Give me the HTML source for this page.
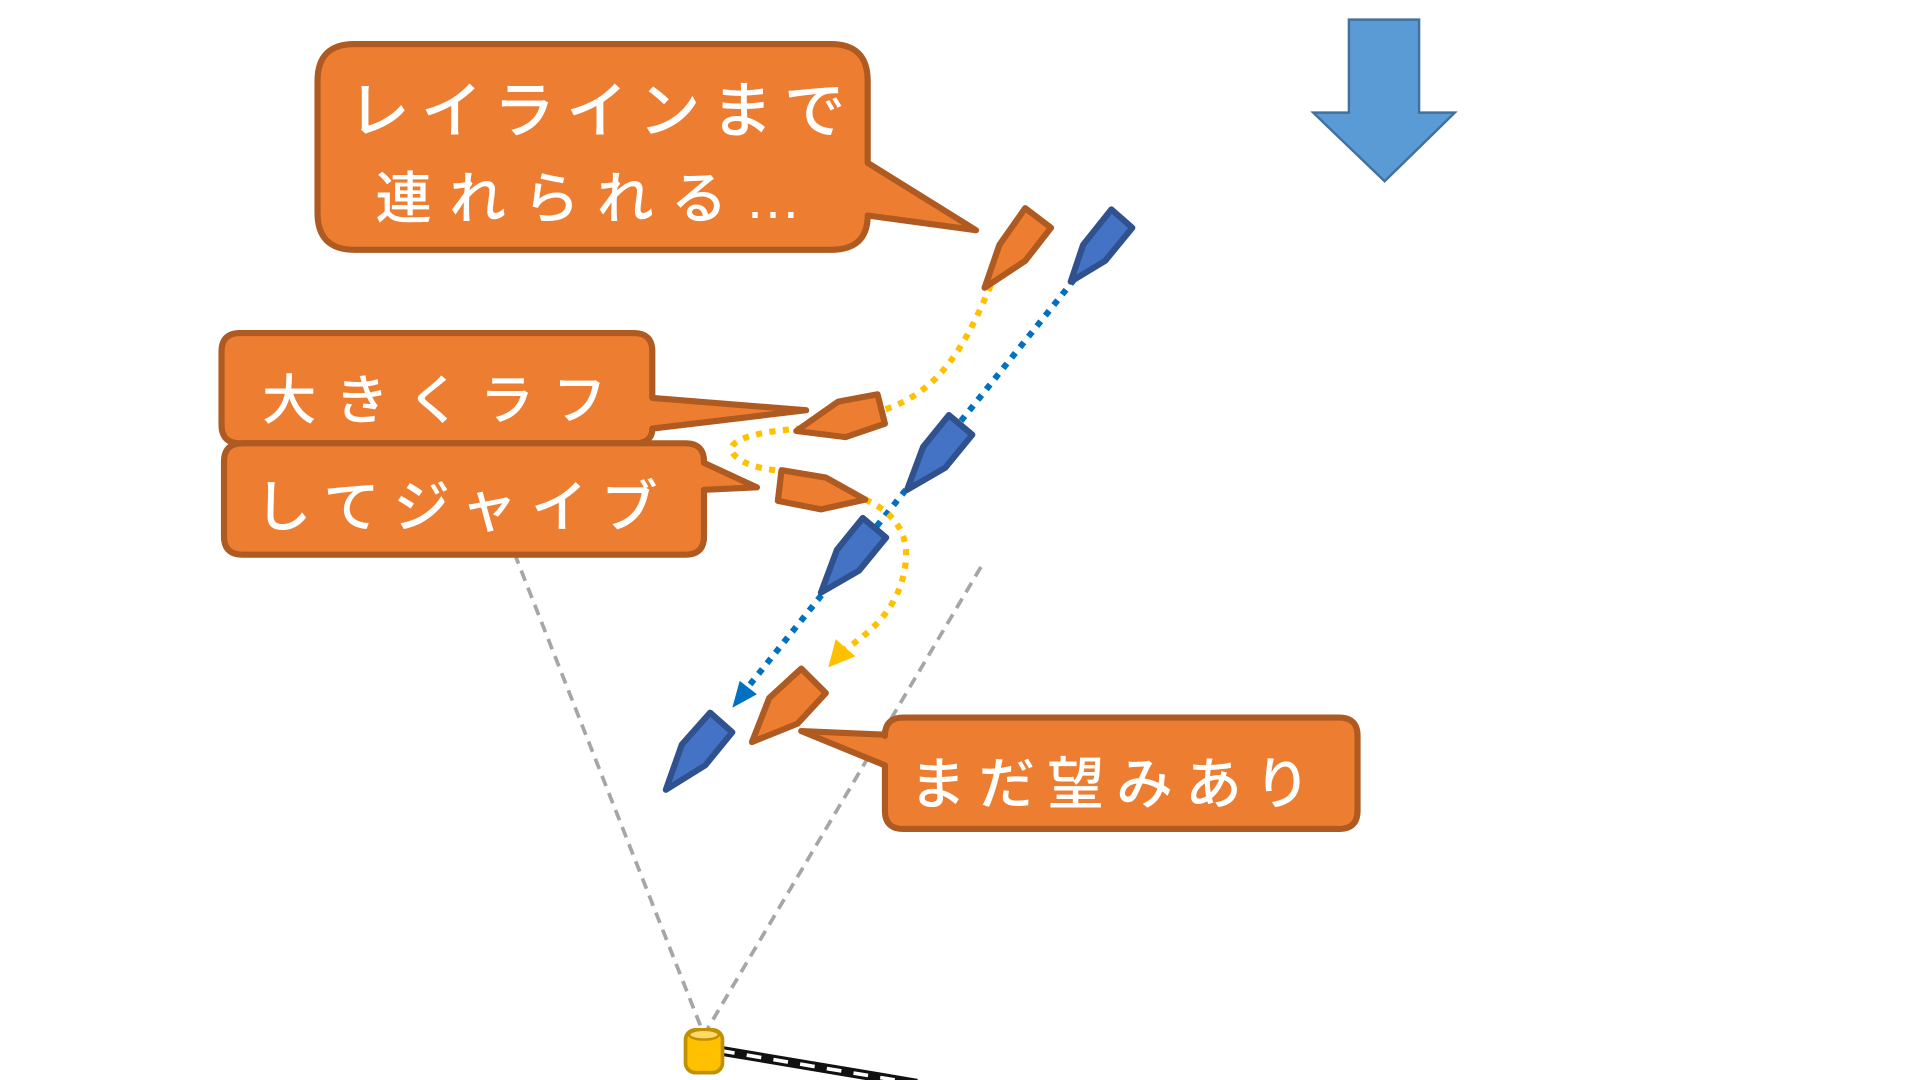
<!DOCTYPE html>
<html><head><meta charset="utf-8"><style>
html,body{margin:0;padding:0;background:#fff;overflow:hidden}
svg{display:block}
text{font-family:"Liberation Sans","Noto Sans CJK JP",sans-serif;fill:#fff;font-weight:500}
</style></head><body>
<svg width="1920" height="1080" viewBox="0 0 1560 882" preserveAspectRatio="none" xmlns="http://www.w3.org/2000/svg">
<g transform="translate(-5,0)">
<polygon points="1101,16 1158,16 1158,92 1187,92 1130,148 1072,92 1101,92" fill="#5b9bd5" stroke="#41719c" stroke-width="2"/>
<line x1="423" y1="452" x2="575" y2="840" stroke="#a6a6a6" stroke-width="3" stroke-dasharray="9,6"/>
<line x1="802" y1="463" x2="580" y2="840" stroke="#a6a6a6" stroke-width="3" stroke-dasharray="9,6"/>
<line x1="878" y1="228" x2="612" y2="562" stroke="#0070c0" stroke-width="5" stroke-dasharray="5,6"/>
<polygon points="600,578 606,556 620,567" fill="#0070c0"/>
<path d="M810,233 C790,280 770,320 722,335 M657,350 C620,352 590,360 602,372 C612,382 630,383 640,385 M708,408 C735,420 745,440 740,465 C735,495 715,515 692,530" fill="none" stroke="#ffc000" stroke-width="5" stroke-dasharray="5,6"/>
<polygon points="678,545 684,522 700,536" fill="#ffc000"/>
<g fill="#ed7d31" stroke="#ae5a21" stroke-width="5" stroke-linejoin="round">
<path d="M293,36 H680 Q710,36 710,66 V133 L798,188 L710,176 Q710,204 680,204 H293 Q263,204 263,174 V66 Q263,36 293,36 Z"/>
<path d="M200,272 H520 Q535,272 535,287 V325 L660,335 L535,350 Q535,362 520,362 H200 Q185,362 185,347 V287 Q185,272 200,272 Z"/>
<path d="M202,362 H562 Q577,362 577,377 V378 L620,398 L577,400 V438 Q577,453 562,453 H202 Q187,453 187,438 V377 Q187,362 202,362 Z"/>
<path d="M739,586 H1093 Q1108,586 1108,601 V662 Q1108,677 1093,677 H739 Q724,677 724,662 V625 L656,597 L724,600 V601 Q724,586 739,586 Z"/>
</g>
<text x="288" y="108" font-size="50" letter-spacing="9">レイラインまで</text>
<text x="310" y="178" font-size="46" letter-spacing="14">連れられる…</text>
<text x="218" y="342" font-size="44" letter-spacing="15">大きくラフ</text>
<text x="212" y="430" font-size="46" letter-spacing="11">してジャイブ</text>
<text x="744" y="656" font-size="46" letter-spacing="10">まだ望みあり</text>
<g fill="#4472c4" stroke="#2f528f" stroke-width="5" stroke-linejoin="round">
<polygon points="908,171 925,186 903,213 875,230 885,200"/>
<polygon points="776,339 795,355 773,382 742,400 755,365"/>
<polygon points="706,423 725,439 703,466 672,484 685,449"/>
<polygon points="582,582 600,598 578,625 546,645 559,608"/>
</g>
<g fill="#ed7d31" stroke="#ae5a21" stroke-width="5" stroke-linejoin="round">
<polygon points="838,170 859,186 838,213 805,235 817,200"/>
<polygon points="652,352 686,328 718,322 724,346 692,357"/>
<polygon points="640,384 676,390 708,408 672,416 637,409"/>
<polygon points="656,546 676,566 653,591 616,606 630,570"/>
</g>
<line x1="590" y1="858" x2="750" y2="885" stroke="#111" stroke-width="8"/>
<line x1="590" y1="858" x2="750" y2="885" stroke="#fff" stroke-width="3" stroke-dasharray="12,10"/>
<rect x="562" y="841" width="30" height="35" rx="8" fill="#ffc000" stroke="#bf9000" stroke-width="3"/>
<ellipse cx="577" cy="845" rx="12" ry="4" fill="#ffd966" stroke="#bf9000" stroke-width="2"/>
</g>
</svg>
</body></html>
